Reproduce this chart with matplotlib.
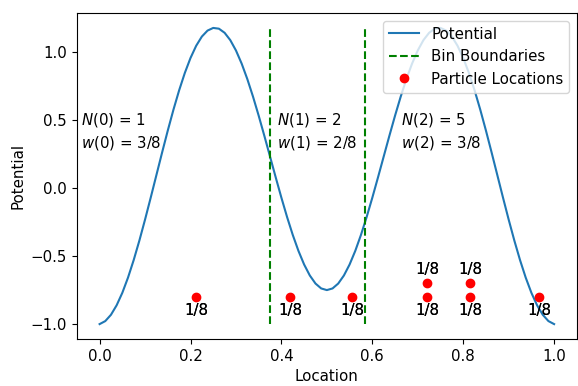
import matplotlib
matplotlib.use("Agg")
import matplotlib.pyplot as plt

plt.rcParams["font.size"] = 10.8

loc = [i * 0.0125 for i in range(81)]
pot_half = [-1.0, -0.9779, -0.9315, -0.8616, -0.7699, -0.6583, -0.5294, -0.3861,
            -0.2317, -0.0699, 0.0957, 0.2611, 0.4225, 0.5762, 0.7184, 0.8460,
            0.9560, 1.0458, 1.1135, 1.1574, 1.1768, 1.1713, 1.1412, 1.0873,
            1.0113, 0.9150, 0.8010, 0.6721, 0.5318, 0.3834, 0.2310, 0.0782,
            -0.0712, -0.2134, -0.3447, -0.4619, -0.5621, -0.6427, -0.7019, -0.7379,
            -0.75]
potential = pot_half + pot_half[-2::-1]

# bins
bin_edges = [0.375, 0.585]
bin_counts = [1, 2, 5]
bin_weights = ["3/8", "2/8", "3/8"]
text_x = [-0.04, 0.39, 0.664]

# particles
px = [0.212, 0.42, 0.556, 0.72, 0.72, 0.815, 0.815, 0.967]
py = [-0.8, -0.8, -0.8, -0.8, -0.7, -0.8, -0.7, -0.8]
pw = ["1/8"] * 8

fig = plt.figure(figsize=(5.78, 3.86), dpi=100)
ax = fig.add_subplot(111)
fig.subplots_adjust(left=0.133, right=0.998, top=0.966, bottom=0.122)

ax.plot(loc, potential, label="Potential")
for i, b in enumerate(bin_edges):
    ax.plot([b, b], [min(potential), max(potential)], "g--",
            label="Bin Boundaries" if i == 0 else None)
ax.plot(px, py, "ro", label="Particle Locations")

for x, y, w in zip(px, py, pw):
    # stacked dots get their label on top
    dy = 0.1 if y > -0.75 else -0.1
    # drawn twice, the original labels look overprinted
    for k in range(2):
        ax.text(x, y + dy, w, ha="center", va="center")

for i in range(3):
    ax.text(text_x[i], 0.50, "$N(%d)$ = %d" % (i, bin_counts[i]), va="center")
    ax.text(text_x[i], 0.33, "$w(%d)$ = %s" % (i, bin_weights[i]), va="center")

ax.set_xlabel("Location")
ax.set_ylabel("Potential")
ax.legend(loc="upper right")

fig.savefig("out.png", dpi=100)
